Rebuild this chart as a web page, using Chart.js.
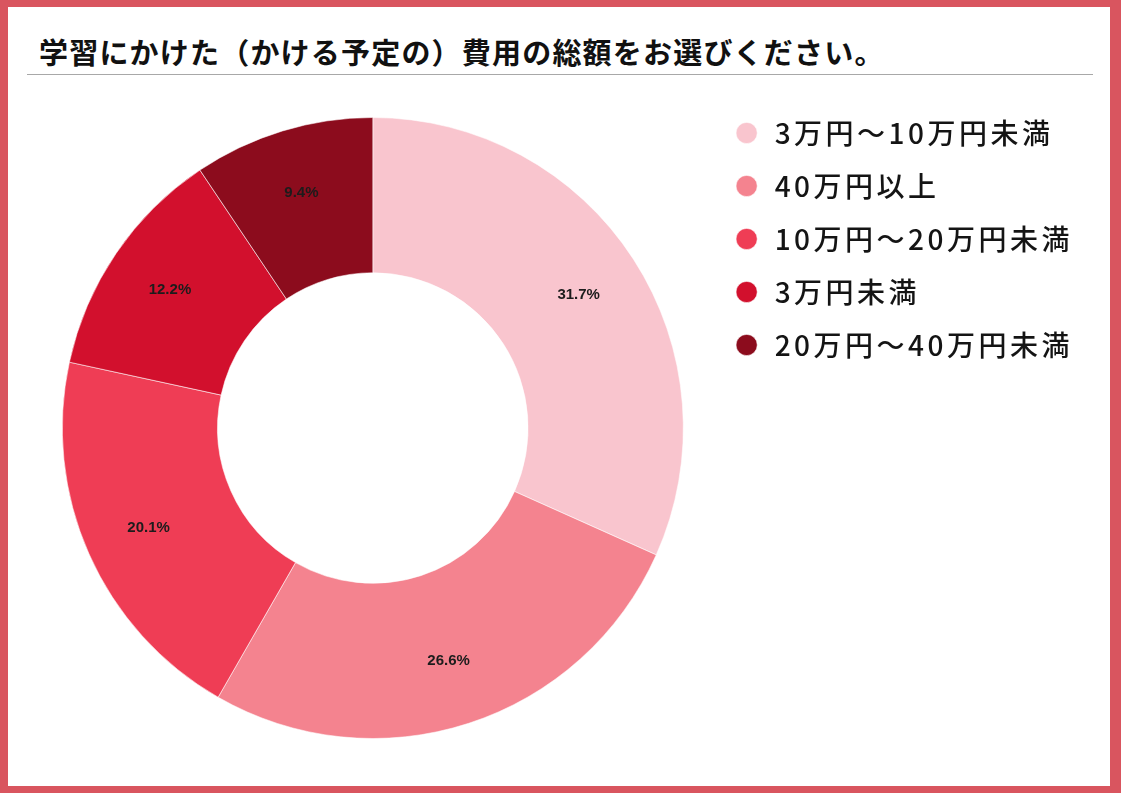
<!DOCTYPE html>
<html lang="ja">
<head>
<meta charset="utf-8">
<title>学習にかけた費用の総額</title>
<script src="https://cdn.jsdelivr.net/npm/chart.js@4.4.1/dist/chart.umd.min.js"></script>
<style>
    html, body {
        margin: 0;
        padding: 0;
        width: 1121px;
        height: 793px;
        background: #d9555f;
        overflow: hidden;
    }

    #panel {
        position: absolute;
        left: 8px;
        top: 7px;
        width: 1102px;
        height: 779px;
        background: #ffffff;
    }

    #chartTitle {
        position: absolute;
        left: 31px;
        top: 27px;
        margin: 0;
        font-family: "Noto Sans CJK JP", sans-serif;
        font-weight: bold;
        font-size: 29px;
        line-height: 34px;
        letter-spacing: 1.2px;
        color: #111;
        white-space: nowrap;
    }

    #titleRule {
        position: absolute;
        left: 19px;
        top: 67px;
        width: 1066px;
        height: 1px;
        background: #a8a8a8;
    }

    #chartBox {
        position: absolute;
        left: 0;
        top: 73px;
        width: 1102px;
        height: 700px;
    }
</style>
</head>
<body>
<div id="panel">
    <h1 id="chartTitle">学習にかけた（かける予定の）費用の総額をお選びください。</h1>
    <div id="titleRule"></div>
    <div id="chartBox">
        <canvas id="costChart"></canvas>
    </div>
</div>

<script>
    'use strict';

    // data (percent of answers)
    const categories = ['3万円～10万円未満', '40万円以上', '10万円～20万円未満', '3万円未満', '20万円～40万円未満'];
    const shares = [31.7, 26.6, 20.1, 12.2, 9.4];
    const sliceColors = ['#f9c5ce', '#f4838f', '#ef3d55', '#d2102d', '#8c0c1d'];

    const legendSpacing = '3.5px';

    // the legend text in the picture is wide-spaced, canvas letterSpacing gives that
    let spacingPlugin = {
        id: 'legendSpacing',
        beforeLayout: function (chart) {
            chart.ctx.letterSpacing = legendSpacing;
        },
        afterLayout: function (chart) {
            // pull the legend up so its first row sits near the top of the ring
            chart.legend.top -= 23;
            chart.legend.bottom -= 23;
            chart.ctx.letterSpacing = '0px';
        },
        beforeDraw: function (chart) {
            chart.ctx.letterSpacing = legendSpacing;
        },
        beforeDatasetsDraw: function (chart) {
            chart.ctx.letterSpacing = '0px';
        }
    };

    // percent labels inside each slice
    let sliceLabels = {
        id: 'sliceLabels',
        afterDatasetsDraw: function (chart) {
            let ctx = chart.ctx;
            let meta = chart.getDatasetMeta(0);
            ctx.save();
            ctx.letterSpacing = '0px';
            ctx.font = 'bold 15px "Liberation Sans", Arial, sans-serif';
            ctx.fillStyle = '#1c1c1c';
            ctx.textAlign = 'center';
            ctx.textBaseline = 'middle';
            meta.data.forEach(function (arc, i) {
                let p = arc.getProps(['x', 'y', 'startAngle', 'endAngle', 'innerRadius', 'outerRadius'], true);
                let mid = (p.startAngle + p.endAngle) / 2;
                let r = p.innerRadius + (p.outerRadius - p.innerRadius) * 0.58;
                ctx.fillText(shares[i].toFixed(1) + '%', p.x + Math.cos(mid) * r, p.y + Math.sin(mid) * r);
            });
            ctx.restore();
        }
    };

    let costChart = new Chart(document.getElementById('costChart'), {
        type: 'doughnut',
        data: {
            labels: categories,
            datasets: [
                {
                    data: shares,
                    backgroundColor: sliceColors,
                    borderColor: 'rgba(255,255,255,0.55)',
                    borderWidth: 1,
                    hoverOffset: 0
                }
            ]
        },
        options: {
            responsive: true,
            maintainAspectRatio: false,
            animation: false,
            cutout: '50%',
            layout: {
                padding: { left: 30, right: 27, top: 37, bottom: 41 }
            },
            plugins: {
                legend: {
                    position: 'right',
                    align: 'start',
                    labels: {
                        usePointStyle: true,
                        pointStyle: 'circle',
                        boxHeight: 15,
                        padding: 25,
                        color: '#141414',
                        font: {
                            family: '"Noto Sans CJK JP", sans-serif',
                            size: 28,
                            weight: '500'
                        }
                    }
                },
                tooltip: { enabled: false }
            }
        },
        plugins: [spacingPlugin, sliceLabels]
    });
</script>
</body>
</html>
